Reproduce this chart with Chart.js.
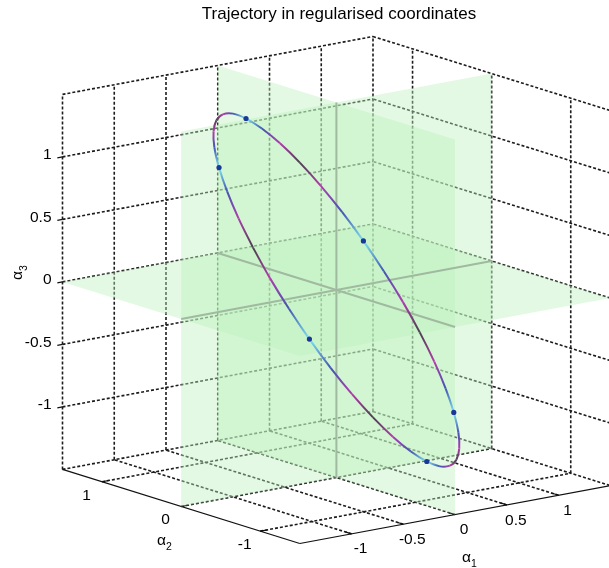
<!DOCTYPE html>
<html>
<head>
<meta charset="utf-8">
<title>Trajectory in regularised coordinates</title>
<script src="https://cdn.jsdelivr.net/npm/chart.js@4.4.1/dist/chart.umd.min.js"></script>
<style>
  html, body { margin: 0; padding: 0; background: #fff; }
  canvas { display: block; }
</style>
</head>
<body>
<canvas id="trajectory" width="609" height="568"></canvas>
<script>
// ---- data ----
const ticksA1 = [-1, -0.5, 0, 0.5, 1];
const ticksA2 = [-1, 0, 1];
const ticksA3 = [-1, -0.5, 0, 0.5, 1];
const axisLim = 1.5;

// trajectory, samples 10 deg of phase apart (starts half way up the upper flank)
const trajA1 = [-0.347, -0.230, -0.106, 0.022, 0.148, 0.270, 0.384, 0.486, 0.574, 0.644,
                0.694, 0.724, 0.731, 0.716, 0.680, 0.622, 0.546, 0.454, 0.347, 0.230,
                0.106, -0.022, -0.148, -0.270, -0.384, -0.486, -0.574, -0.644, -0.694, -0.724,
                -0.731, -0.716, -0.680, -0.622, -0.546, -0.454, -0.347];
const trajA2 = [0.600, 0.539, 0.461, 0.370, 0.267, 0.156, 0.040, -0.077, -0.191, -0.300,
                -0.400, -0.487, -0.560, -0.616, -0.653, -0.670, -0.667, -0.643, -0.600, -0.539,
                -0.461, -0.370, -0.267, -0.156, -0.040, 0.077, 0.191, 0.300, 0.400, 0.487,
                0.560, 0.616, 0.653, 0.670, 0.667, 0.643, 0.600];
const trajA3 = [0.274, 0.024, -0.225, -0.469, -0.698, -0.906, -1.086, -1.233, -1.343, -1.412,
                -1.439, -1.421, -1.360, -1.258, -1.118, -0.943, -0.741, -0.516, -0.274, -0.024,
                0.225, 0.469, 0.698, 0.906, 1.086, 1.233, 1.343, 1.412, 1.439, 1.421,
                1.360, 1.258, 1.118, 0.943, 0.741, 0.516, 0.274];

// states marked with dots
const markA1 = [0.022, 0.644, 0.622, -0.022, -0.644, -0.622];
const markA2 = [0.370, -0.300, -0.670, -0.370, 0.300, 0.670];
const markA3 = [-0.469, -1.412, -0.943, 0.469, 1.412, 0.943];

// ---- view (fixed 3d camera, orthographic) ----
const view = { cx: 336.4, cy: 290, e1: [103.5, -19.3], e2: [-79.1, -24.7], e3: [0, -125] };
function proj(p1, p2, p3) {
    return {
        x: view.cx + view.e1[0] * p1 + view.e2[0] * p2 + view.e3[0] * p3,
        y: view.cy + view.e1[1] * p1 + view.e2[1] * p2 + view.e3[1] * p3
    };
}

const L = axisLim;
const datasets = [];
function addPath(points, style, order) {
    datasets.push(Object.assign({
        data: points,
        pointRadius: 0,
        pointHoverRadius: 0,
        borderWidth: 1,
        fill: false,
        tension: 0,
        order: order
    }, style));
}

// grid on back walls and floor
const gridStyle = { borderColor: '#1c1c1c', borderWidth: 1.6, borderDash: [3, 2] };
ticksA1.forEach(t => addPath([proj(t, L, -L), proj(t, L, L)], gridStyle, 6));
ticksA3.forEach(t => addPath([proj(-L, L, t), proj(L, L, t)], gridStyle, 6));
ticksA2.forEach(t => addPath([proj(L, t, -L), proj(L, t, L)], gridStyle, 6));
ticksA3.forEach(t => addPath([proj(L, -L, t), proj(L, L, t)], gridStyle, 6));
ticksA1.forEach(t => addPath([proj(t, -L, -L), proj(t, L, -L)], gridStyle, 6));
ticksA2.forEach(t => addPath([proj(-L, t, -L), proj(L, t, -L)], gridStyle, 6));

// back box edges
[
    [[-L, L, -L], [-L, L, L]],
    [[-L, L, L], [L, L, L]],
    [[L, L, L], [L, -L, L]],
    [[L, L, -L], [L, L, L]],
    [[-L, L, -L], [L, L, -L]],
    [[L, L, -L], [L, -L, -L]],
    [[L, -L, -L], [L, -L, L]]
].forEach(e => addPath([proj(...e[0]), proj(...e[1])], gridStyle, 6));

// front axis lines and ticks
const axisStyle = { borderColor: '#111', borderWidth: 1.2 };
addPath([proj(-L, L, -L), proj(-L, -L, -L)], axisStyle, 5);
addPath([proj(-L, -L, -L), proj(L, -L, -L)], axisStyle, 5);
ticksA2.forEach(t => addPath([proj(-L, t, -L), proj(-L + 0.07, t, -L)], axisStyle, 5));
ticksA1.forEach(t => addPath([proj(t, -L, -L), proj(t, -L + 0.08, -L)], axisStyle, 5));
ticksA3.forEach(t => addPath([proj(-L - 0.05, L, t), proj(-L, L, t)], axisStyle, 5));

// translucent coordinate planes
const planeStyle = { backgroundColor: 'rgba(188, 240, 188, 0.42)', borderWidth: 0, borderColor: 'rgba(0,0,0,0)', fill: 'shape' };
addPath([proj(0, L, -L), proj(0, -L, -L), proj(0, -L, L), proj(0, L, L), proj(0, L, -L)], planeStyle, 4);
addPath([proj(-L, 0, -L), proj(L, 0, -L), proj(L, 0, L), proj(-L, 0, L), proj(-L, 0, -L)], planeStyle, 4);
addPath([proj(-L, -L, 0), proj(L, -L, 0), proj(L, L, 0), proj(-L, L, 0), proj(-L, -L, 0)], planeStyle, 4);

// plane intersection lines
const crossStyle = { borderColor: '#a0baa0', borderWidth: 2 };
addPath([proj(-L, 0, 0), proj(L, 0, 0)], crossStyle, 3);
addPath([proj(0, L, 0), proj(0, -L, 0)], crossStyle, 3);
addPath([proj(0, 0, -L), proj(0, 0, L)], crossStyle, 3);

// trajectory, coloured by phase between marked states
const arcColours = ['#7ee4f0', '#4356b2', '#b23cae', '#4a424e', '#b23cae', '#4356b2'];
const trajPts = trajA1.map((v, i) => proj(v, trajA2[i], trajA3[i]));
addPath(trajPts, {
    borderColor: '#4356b2',
    borderWidth: 2,
    tension: 0.4,
    segment: {
        borderColor: ctx => {
            const g = ctx.chart.ctx.createLinearGradient(ctx.p0.x, ctx.p0.y, ctx.p1.x, ctx.p1.y);
            g.addColorStop(0, arcColours[(ctx.p0DataIndex + 3) % 6]);
            g.addColorStop(1, arcColours[(ctx.p1DataIndex + 3) % 6]);
            return g;
        }
    }
}, 2);

// marked states
datasets.push({
    data: markA1.map((v, i) => proj(v, markA2[i], markA3[i])),
    showLine: false,
    pointRadius: 2.6,
    pointBorderWidth: 0,
    pointBackgroundColor: '#1b3797',
    order: 1
});

// axis text
const FONT = '"Liberation Sans", Arial, sans-serif';
const axisText = {
    id: 'axisText',
    afterDraw(chart) {
        const c = chart.ctx;
        c.save();
        c.fillStyle = '#000';
        c.textBaseline = 'alphabetic';

        c.font = '17px ' + FONT;
        c.textAlign = 'center';
        c.fillText('Trajectory in regularised coordinates', 339, 18.5);

        c.font = '15.5px ' + FONT;
        c.textAlign = 'right';
        ticksA3.forEach(t => {
            const p = proj(-L, L, t);
            c.fillText(String(t), p.x - 11, p.y + 2.5);
        });
        c.textAlign = 'center';
        ticksA2.forEach(t => {
            const p = proj(-L, t, -L);
            c.fillText(String(t), p.x - 15.5, p.y + 17.8);
        });
        ticksA1.forEach(t => {
            const p = proj(t, -L, -L);
            c.fillText(String(t), p.x + 9, p.y + 19.6);
        });

        // axis names with subscripts
        const sub = (x, y, s) => {
            c.font = '15.5px ' + FONT;
            c.textAlign = 'left';
            c.fillText('\u03b1', x, y);
            const w = c.measureText('\u03b1').width;
            c.font = '10.5px ' + FONT;
            c.fillText(s, x + w, y + 5);
        };
        sub(462, 561.5, '1');
        sub(157, 545, '2');
        c.translate(22, 280);
        c.rotate(-Math.PI / 2);
        sub(0, 0, '3');
        c.restore();
    }
};

new Chart(document.getElementById('trajectory'), {
    type: 'line',
    data: { datasets: datasets },
    options: {
        responsive: false,
        animation: false,
        events: [],
        layout: { padding: 0, autoPadding: false },
        scales: {
            x: { type: 'linear', min: 0, max: 609, display: false },
            y: { type: 'linear', min: 0, max: 568, reverse: true, display: false }
        },
        plugins: {
            legend: { display: false },
            tooltip: { enabled: false }
        }
    },
    plugins: [axisText]
});
</script>
</body>
</html>
